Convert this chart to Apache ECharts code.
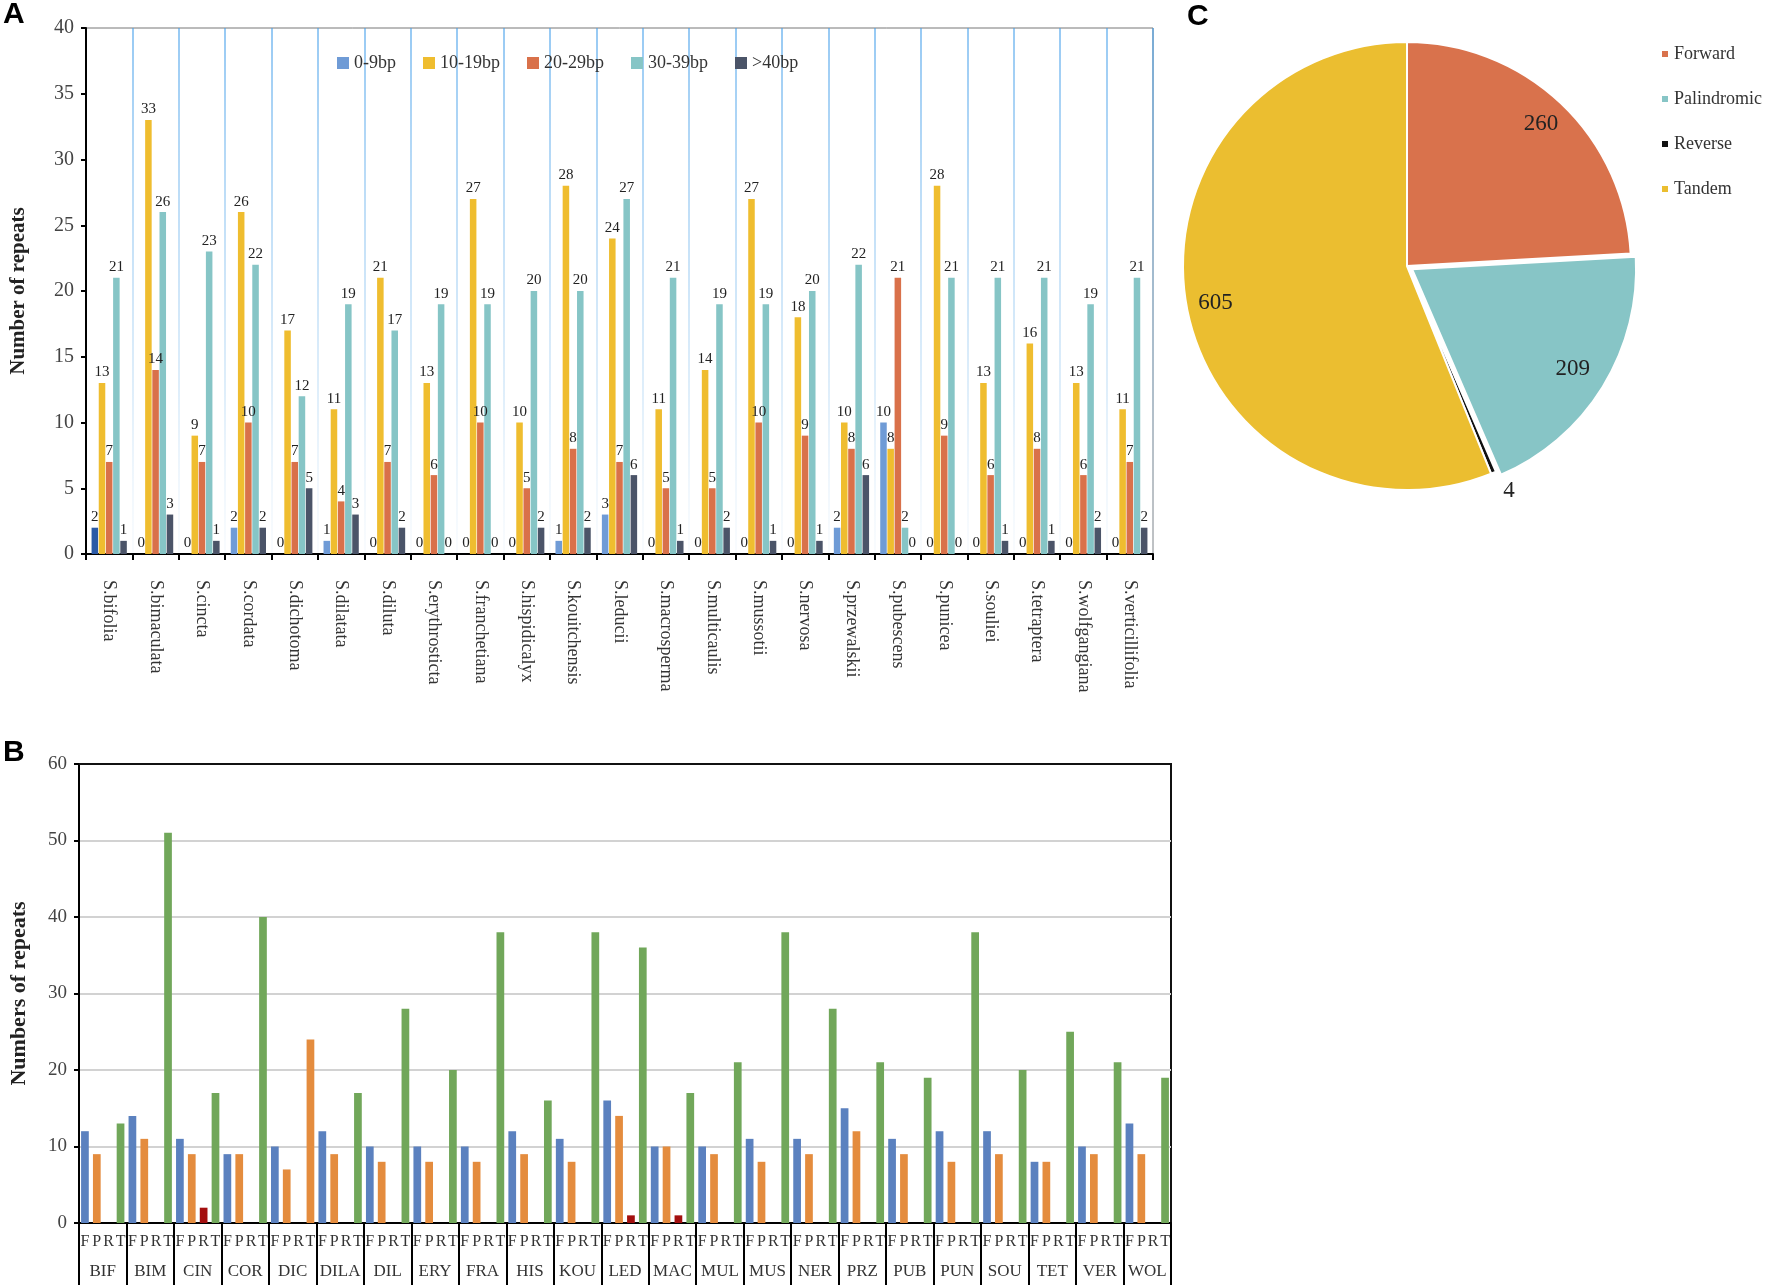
<!DOCTYPE html>
<html><head><meta charset="utf-8">
<script src="https://cdn.jsdelivr.net/npm/echarts@6/dist/echarts.min.js"></script>
<style>html,body{margin:0;padding:0;background:#fff}#c{width:1772px;height:1286px}</style>
</head><body><div id="c"></div>
<script>
// ---------- Panel A data ----------
const speciesA = ['S.bifolia','S.bimaculata','S.cincta','S.cordata','S.dichotoma','S.dilatata','S.diluta','S.erythrosticta','S.franchetiana','S.hispidicalyx','S.kouitchensis','S.leducii','S.macrosperma','S.multicaulis','S.mussotii','S.nervosa','S.przewalskii','S.pubescens','S.punicea','S.souliei','S.tetraptera','S.wolfgangiana','S.verticillifolia'];
const seriesNamesA = ['0-9bp','10-19bp','20-29bp','30-39bp','>40bp'];
const a0_9   = [2,0,0,2,0,1,0,0,0,0,1,3,0,0,0,0,2,10,0,0,0,0,0];
const a10_19 = [13,33,9,26,17,11,21,13,27,10,28,24,11,14,27,18,10,8,28,13,16,13,11];
const a20_29 = [7,14,7,10,7,4,7,6,10,5,8,7,5,5,10,9,8,21,9,6,8,6,7];
const a30_39 = [21,26,23,22,12,19,17,19,19,20,20,27,21,19,19,20,22,2,21,21,21,19,21];
const a40    = [1,3,1,2,5,3,2,0,0,2,2,6,1,2,1,1,6,0,0,1,1,2,2];
const yTicksA = {min:0, max:40, interval:5};

// ---------- Panel B data ----------
const groupsB = ['BIF','BIM','CIN','COR','DIC','DILA','DIL','ERY','FRA','HIS','KOU','LED','MAC','MUL','MUS','NER','PRZ','PUB','PUN','SOU','TET','VER','WOL'];
const typesB = ['F','P','R','T'];
const bF = [12,14,11,9,10,12,10,10,10,12,11,16,10,10,11,11,15,11,12,12,8,10,13];
const bP = [9,11,9,9,7,9,8,8,8,9,8,14,10,9,8,9,12,9,8,9,8,9,9];
const bR = [0,0,2,0,0,0,0,0,0,0,0,1,1,0,0,0,0,0,0,0,0,0,0];
const bT = [13,51,17,40,24,17,28,20,38,16,38,36,17,21,38,28,21,19,38,20,25,21,19];
const yTicksB = {min:0, max:60, interval:10};

// ---------- Panel C data ----------
const pieNames = ['Forward','Palindromic','Reverse','Tandem'];
const pieValues = [260,209,4,605];

// ---------- styles ----------
const SERIF = '"Liberation Serif","Times New Roman",serif';
const colorsA = ['#6f9bd6','#efbd2f','#d9714a','#86c5c6','#4b5468'];
const colorsB = ['#5b81bf','#e48c3e','#a30f0f','#71a75a'];
const pieColors = ['#d9724c','#87c5c6','#111111','#ebbe30'];

const chart = echarts.init(document.getElementById('c'), null, {renderer:'canvas'});

const seriesA = [a0_9,a10_19,a20_29,a30_39,a40].map((arr,i)=>({
  type:'bar', name:seriesNamesA[i], xAxisIndex:0, yAxisIndex:0,
  data: arr.map((v,j)=> (i===0 && j===0) ? {value:v, itemStyle:{color:'#2b5aa6'}} : v),
  itemStyle:{color:colorsA[i]},
  barCategoryGap:'24%', barGap:'10%',
  label:{show:true, position:'top', distance:3, fontFamily:SERIF, fontSize:15, color:'#222'}
}));

const seriesB = [bF,bP,bR,bT].map((arr,i)=>({
  type:'bar', name:typesB[i], xAxisIndex:1, yAxisIndex:1,
  data: arr.map((v,j)=> (i===3 && groupsB[j]==='DIC') ? {value:v, itemStyle:{color:colorsB[1]}} : v),
  itemStyle:{color:colorsB[i]},
  barCategoryGap:'8.75%', barGap:'53.8%'
}));

const typeLabels = [];
groupsB.forEach(()=>typesB.forEach(t=>typeLabels.push(t)));

const option = {
  backgroundColor:'#fff',
  animation:false,
  textStyle:{fontFamily:SERIF},
  graphic:[
    {type:'text', left:3, top:0, style:{text:'A', font:'bold 30px "Liberation Sans",Arial,sans-serif', fill:'#000'}},
    {type:'text', left:3, top:738, style:{text:'B', font:'bold 30px "Liberation Sans",Arial,sans-serif', fill:'#000'}},
    {type:'text', left:1187, top:2, style:{text:'C', font:'bold 30px "Liberation Sans",Arial,sans-serif', fill:'#000'}}
  ],
  legend:[
    {data:seriesNamesA, left:332, top:49, itemWidth:12, itemHeight:12, itemGap:27,
     textStyle:{fontFamily:SERIF, fontSize:18, color:'#333'}, icon:'rect'},
    {data:pieNames.map((n,i)=>({name:n, itemStyle:{color:pieColors[i]}})), orient:'vertical', left:1655, top:40,
     itemWidth:8, itemHeight:8, itemGap:27, icon:'rect',
     textStyle:{fontFamily:SERIF, fontSize:18, color:'#333'}}
  ],
  grid:[
    {left:79, top:28, width:1074, height:526, show:true, borderColor:'#777', borderWidth:1},
    {left:79, top:764, width:1092, height:459, show:true, borderColor:'#111', borderWidth:2}
  ],
  xAxis:[
    {type:'category', gridIndex:0, data:speciesA,
     axisLine:{lineStyle:{color:'#000', width:2}},
     axisTick:{show:true, interval:0, length:6, lineStyle:{color:'#000', width:2}},
     axisLabel:{interval:0, rotate:-90, margin:26, fontFamily:SERIF, fontSize:18, color:'#333'},
     splitLine:{show:true, interval:0, lineStyle:{width:1.5,
       color:new echarts.graphic.LinearGradient(0,28,0,554,[
         {offset:0, color:'rgba(70,160,235,0.75)'},
         {offset:0.7, color:'rgba(150,200,240,0.4)'},
         {offset:1, color:'rgba(215,232,248,0.2)'}], true)}}},
    {type:'category', gridIndex:1, data:groupsB, position:'bottom',
     axisLine:{lineStyle:{color:'#000', width:2}},
     axisTick:{show:true, interval:0, length:62, lineStyle:{color:'#000', width:2}},
     axisLabel:{interval:0, margin:40, fontFamily:SERIF, fontSize:17, color:'#333'}},
    {type:'category', gridIndex:1, data:typeLabels, position:'bottom',
     axisLine:{show:false}, axisTick:{show:false},
     axisLabel:{interval:0, margin:11, fontFamily:SERIF, fontSize:16, color:'#333'}},
    {type:'category', gridIndex:1, data:groupsB, position:'top',
     axisLine:{show:true, lineStyle:{color:'#111', width:2}}, axisTick:{show:false}, axisLabel:{show:false}}
  ],
  yAxis:[
    {type:'value', gridIndex:0, min:yTicksA.min, max:yTicksA.max, interval:yTicksA.interval,
     axisLine:{show:true, lineStyle:{color:'#000', width:2}},
     axisTick:{show:true, length:5, lineStyle:{color:'#000', width:2}},
     axisLabel:{margin:12, fontFamily:SERIF, fontSize:20, color:'#444'},
     splitLine:{show:false},
     name:'Number of repeats', nameLocation:'middle', nameGap:57,
     nameTextStyle:{fontFamily:SERIF, fontWeight:'bold', fontSize:21, color:'#222'}},
    {type:'value', gridIndex:1, min:yTicksB.min, max:yTicksB.max, interval:yTicksB.interval,
     axisLine:{show:true, lineStyle:{color:'#000', width:2}},
     axisTick:{show:true, length:5, lineStyle:{color:'#000', width:2}},
     axisLabel:{margin:12, fontFamily:SERIF, fontSize:19, color:'#444'},
     splitLine:{show:true, lineStyle:{color:'#d2d2d2', width:2}},
     name:'Numbers of repeats', nameLocation:'middle', nameGap:49,
     nameTextStyle:{fontFamily:SERIF, fontWeight:'bold', fontSize:22, color:'#222'}}
  ],
  series:[
    ...seriesA,
    ...seriesB,
    {type:'pie', z:2, center:[1407,266], radius:224, startAngle:90, clockwise:true,
     selectedMode:'single', selectedOffset:6, avoidLabelOverlap:false,
     itemStyle:{borderColor:'#fff', borderWidth:2},
     label:{show:false}, labelLine:{show:false},
     data:pieNames.map((n,i)=>({name:n, value:pieValues[i], selected:n==='Palindromic', itemStyle:{color:pieColors[i]}}))},
    {type:'pie', z:6, center:[1407,266], radius:[160,224], startAngle:90, clockwise:true,
     silent:true, avoidLabelOverlap:false, legendHoverLink:false,
     itemStyle:{color:'rgba(0,0,0,0)', borderWidth:0},
     label:{show:true, position:'inside', formatter:'{c}', fontFamily:SERIF, fontSize:23, color:'#222'},
     labelLine:{show:false, length:20, length2:0},
     data:pieNames.map((n,i)=>({name:n, value:pieValues[i],
        label: n==='Reverse' ? {position:'outside', distanceToLabelLine:2} : undefined,
        labelLine: n==='Reverse' ? {show:false, length:20, length2:0} : undefined}))}
  ]
};
chart.setOption(option);
</script>
</body></html>
